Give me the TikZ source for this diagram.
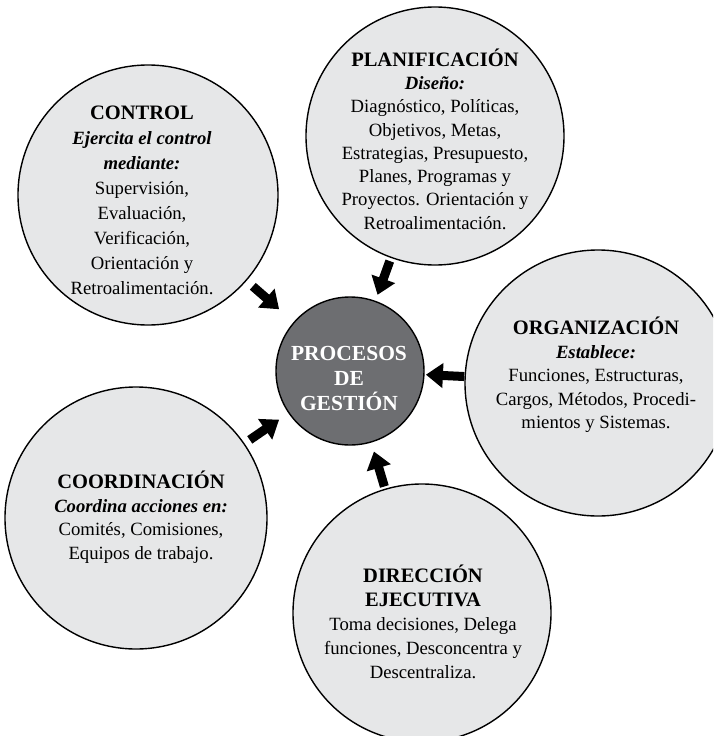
\documentclass[tikz,border=0pt]{standalone}
\usepackage{fontspec}
\setmainfont{Liberation Serif}
\usetikzlibrary{arrows.meta,calc}
\definecolor{bubblefill}{HTML}{E6E7E8}
\definecolor{hubfill}{HTML}{6D6E71}
\newcommand{\headline}[1]{{\fontsize{20.5}{20}\selectfont\bfseries #1}}
\begin{document}
\begin{tikzpicture}[x=1pt,y=-1pt,
  bubble/.style={circle,draw=black,line width=1.4pt,fill=bubblefill,inner sep=0pt,minimum size=#1},
  hub/.style={circle,draw=black,line width=1.4pt,fill=hubfill,inner sep=0pt,minimum size=148pt},
  bubbletext/.style={align=center,inner sep=0pt,font=\fontsize{18.7}{#1}\selectfont},
  hubtext/.style={align=center,inner sep=0pt,text=white,font=\bfseries\fontsize{21.5}{25}\selectfont},
  feed/.style={line width=9pt,-{Triangle[length=17pt,width=24pt]}}
]
\useasboundingbox (0,0) rectangle (713,736);
\clip (0,0) rectangle (713,736);

% outer process bubbles
\node[bubble=258pt] (plan) at (435,136) {};
\node[bubble=260pt] (ctrl) at (148,195) {};
\node[bubble=266pt] (org)  at (598,383) {};
\node[bubble=262pt] (coord) at (136,518) {};
\node[bubble=258pt] (dir)  at (422,613) {};

% central hub
\node[hub] (core) at (350,371) {};
\node[hubtext] (coretext) at (349,378) {PROCESOS\\DE\\GESTIÓN};

% bubble texts
\node[bubbletext=23.3] (plantext) at (435,139) {\headline{PLANIFICACIÓN}\\\textbf{\textit{Diseño:}}\\Diagnóstico, Políticas,\\Objetivos, Metas,\\Estrategias, Presupuesto,\\Planes, Programas y\\Proyectos. Orientación y\\Retroalimentación.};
\node[bubbletext=25] (ctrltext) at (142,200) {\headline{CONTROL}\\\textbf{\textit{Ejercita el control}}\\\textbf{\textit{mediante:}}\\Supervisión,\\Evaluación,\\Verificación,\\Orientación y\\Retroalimentación.};
\node[bubbletext=23.5] (orgtext) at (596,375) {\headline{ORGANIZACIÓN}\\\textbf{\textit{Establece:}}\\Funciones, Estructuras,\\Cargos, Métodos, Procedi-\\mientos y Sistemas.};
\node[bubbletext=23.5] (coordtext) at (141,517) {\headline{COORDINACIÓN}\\\textbf{\textit{Coordina acciones en:}}\\Comités, Comisiones,\\Equipos de trabajo.};
\node[bubbletext=24] (dirtext) at (423,622) {\headline{DIRECCIÓN}\\\headline{EJECUTIVA}\\Toma decisiones, Delega\\funciones, Desconcentra y\\Descentraliza.};

% arrows feeding the hub
\draw[feed] ($(ctrl)!139pt!(core)$) -- ($(core)!94pt!(ctrl)$);
\draw[feed] ($(plan)!133pt!(core)$) -- ($(core)!81pt!(plan)$);
\draw[feed] ($(org)!134pt!(core)$) -- ($(core)!76pt!(org)$);
\draw[feed] ($(dir)!132pt!(core)$) -- ($(core)!84pt!(dir)$);
\draw[feed] ($(coord)!138pt!(core)$) -- ($(core)!86pt!(coord)$);
\end{tikzpicture}
\end{document}
